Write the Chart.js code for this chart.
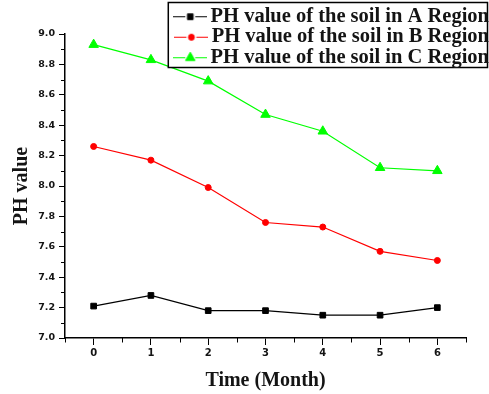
<!DOCTYPE html>
<html><head><meta charset="utf-8">
<script src="https://cdn.jsdelivr.net/npm/chart.js@4.4.1/dist/chart.umd.min.js"></script>
<style>html,body{margin:0;padding:0;background:#fff;}#wrap{width:489px;height:394px;}</style>
</head><body><div id="wrap"><canvas id="c" width="489" height="394"></canvas></div>
<script>
// ---- data ----
const months = ['0', '1', '2', '3', '4', '5', '6'];
const seriesNames = ['PH value of the soil in A Region', 'PH value of the soil in B Region', 'PH value of the soil in C Region'];
const phA = [7.21, 7.28, 7.18, 7.18, 7.15, 7.15, 7.20];
const phB = [8.26, 8.17, 7.99, 7.76, 7.73, 7.57, 7.51];
const phC = [8.93, 8.83, 8.69, 8.47, 8.36, 8.12, 8.10];
const yMin = 7.0, yMax = 9.0, yStep = 0.2;
const xTitle = 'Time (Month)';
const yTitle = 'PH value';

// ---- styles ----
const colors = ['#000000', '#ff0000', '#00ff00'];
const markers = ['rect', 'circle', 'triangle'];
const markerR = [4, 3, 5.5];
const textColor = '#141414';
const serif = "'Liberation Serif', 'Times New Roman', serif";

function drawMarker(ctx, style, cx, cy, r, color) {
  ctx.fillStyle = color; ctx.strokeStyle = color; ctx.lineWidth = 1;
  ctx.beginPath();
  if (style === 'rect') { const s = r * Math.SQRT1_2; ctx.rect(cx - s, cy - s, 2 * s, 2 * s); }
  else if (style === 'circle') { ctx.arc(cx, cy, r, 0, Math.PI * 2); }
  else { ctx.moveTo(cx, cy - r); ctx.lineTo(cx + r * Math.sin(Math.PI / 3), cy + r / 2); ctx.lineTo(cx - r * Math.sin(Math.PI / 3), cy + r / 2); ctx.closePath(); }
  ctx.fill(); ctx.stroke();
}
function sample(i) {
  const cv = document.createElement('canvas'); cv.width = 34; cv.height = 14;
  const g = cv.getContext('2d');
  g.strokeStyle = colors[i]; g.lineWidth = 1.2;
  g.beginPath(); g.moveTo(0, 7.5); g.lineTo(12, 7.5); g.moveTo(22, 7.5); g.lineTo(34, 7.5); g.stroke();
  drawMarker(g, markers[i], 17, 7.5, markerR[i], colors[i]);
  return cv;
}
const samples = [0, 1, 2].map(sample);

const minorTicks = {
  id: 'minorTicks',
  afterDraw(chart) {
    const ctx = chart.ctx, xs = chart.scales.x, ys = chart.scales.y;
    ctx.save(); ctx.strokeStyle = '#000'; ctx.lineWidth = 1;
    ctx.beginPath();
    const n = Math.round((yMax - yMin) / yStep);
    for (let k = 0; k < n; k++) {
      const p = Math.round(ys.getPixelForValue(yMin + (k + 0.5) * yStep)) + 0.5;
      ctx.moveTo(ys.right, p); ctx.lineTo(ys.right - 4, p);
    }
    for (let i = -1; i < months.length; i++) {
      const p = Math.round(xs.getPixelForValue(i + 0.5)) + 0.5;
      ctx.moveTo(p, xs.top); ctx.lineTo(p, xs.top + 4.5);
    }
    ctx.stroke(); ctx.restore();
  }
};

const legendOnTop = {
  id: 'legendOnTop',
  beforeDraw(chart) {
    const lg = chart.legend;
    if (lg && !lg._onTop) { lg._onTop = true; lg.draw = function () {}; }
  },
  afterDatasetsDraw(chart) {
    const lg = chart.legend, hb = lg && lg.legendHitBoxes;
    if (!hb || !hb.length) return;
    const ctx = chart.ctx;
    const left = Math.min(...hb.map(h => h.left)) - 12;
    const top = 2.5;
    const last = hb[hb.length - 1];
    const bottom = last.top + last.height + 0;
    const right = chart.width - 1.5;
    ctx.save();
    ctx.fillStyle = '#fff'; ctx.fillRect(left, top, right - left, bottom - top);
    ctx.strokeStyle = '#000'; ctx.lineWidth = 1.5; ctx.strokeRect(left, top, right - left, bottom - top);
    ctx.restore();
    lg._draw();
  }
};

const mkSet = (i, data) => ({
  label: seriesNames[i], data,
  borderColor: colors[i], backgroundColor: colors[i],
  borderWidth: 1.2, pointStyle: markers[i], pointRadius: markerR[i], pointBorderWidth: 1,
  pointBackgroundColor: colors[i], pointBorderColor: colors[i], tension: 0, fill: false
});

new Chart(document.getElementById('c'), {
  type: 'line',
  data: { labels: months, datasets: [mkSet(0, phA), mkSet(1, phB), mkSet(2, phC)] },
  options: {
    responsive: false, animation: false, devicePixelRatio: 1,
    layout: { padding: { top: 6, left: 0, right: 0, bottom: 0 } },
    plugins: {
      tooltip: { enabled: false },
      legend: {
        position: 'top', align: 'end', maxHeight: 28,
        labels: {
          usePointStyle: true, pointStyleWidth: 20, padding: 0, color: textColor,
          font: { family: serif, size: 20.5, weight: 'bold' },
          generateLabels(chart) {
            const items = Chart.defaults.plugins.legend.labels.generateLabels(chart);
            items.forEach((it, i) => { it.pointStyle = samples[i]; });
            return items;
          }
        }
      }
    },
    scales: {
      x: {
        type: 'category', offset: true,
        grid: { display: true, drawOnChartArea: false, tickLength: 7, color: '#000', tickWidth: 1 },
        border: { display: true, color: '#000', width: 1.5 },
        ticks: { color: textColor, padding: 2, font: { family: "'DejaVu Sans'", size: 10, weight: 'bold' }, maxRotation: 0 },
        title: { display: true, text: xTitle, color: textColor, padding: { top: 0, bottom: 1 }, font: { family: serif, size: 20, weight: 'bold' } },
        afterFit(s) { s.height = 56; }
      },
      y: {
        min: yMin, max: yMax,
        grid: { display: true, drawOnChartArea: false, tickLength: 6, color: '#000', tickWidth: 1 },
        border: { display: true, color: '#000', width: 1.5 },
        ticks: { stepSize: yStep, color: textColor, padding: 4, font: { family: "'DejaVu Sans'", size: 9.5, weight: 'bold' }, callback: v => Number(v).toFixed(1) },
        title: { display: true, text: yTitle, color: textColor, padding: { top: 10, bottom: 0 }, font: { family: serif, size: 20, weight: 'bold' } },
        afterFit(s) { s.width = 65; }
      },
      yRight: {
        position: 'right', display: true,
        grid: { display: false, drawTicks: false }, ticks: { display: false }, border: { display: false },
        afterFit(s) { s.width = 23; }
      }
    }
  },
  plugins: [minorTicks, legendOnTop]
});
</script></body></html>
